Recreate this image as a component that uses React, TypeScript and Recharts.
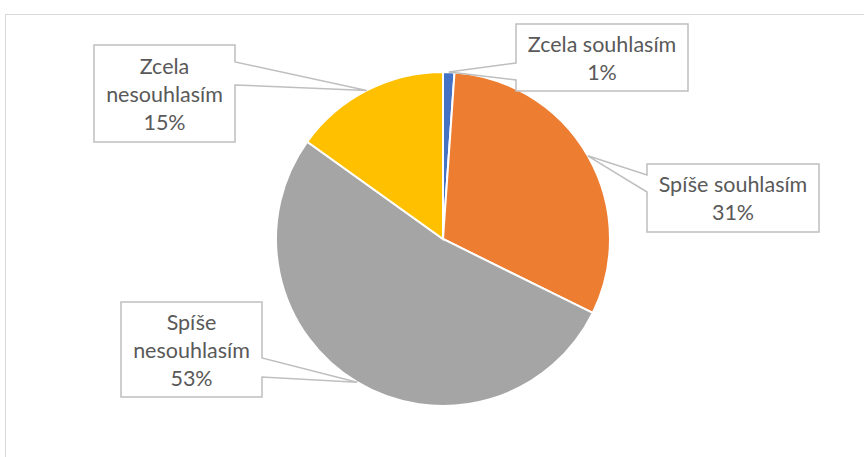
import { PieChart, Pie, Cell } from "recharts";

const categories = ["Zcela souhlasím", "Spíše souhlasím", "Spíše nesouhlasím", "Zcela nesouhlasím"];
const shares = [1.1, 31.2, 52.6, 15.1];
const colors = ["#4472c4", "#ed7d31", "#a5a5a5", "#ffc000"];

// callout boxes: x, y, w, h, which side the pointer leaves from, pointer base (y1, y2)
const callouts = [
  { x: 516, y: 24, w: 172, h: 67, side: "left", b1: 63, b2: 80, lines: ["Zcela souhlasím"] },
  { x: 647, y: 164, w: 172, h: 68, side: "left", b1: 175, b2: 192, lines: ["Spíše souhlasím"] },
  { x: 121, y: 302, w: 141, h: 95, side: "right", b1: 358, b2: 377, lines: ["Spíše", "nesouhlasím"] },
  { x: 94, y: 45, w: 141, h: 97, side: "right", b1: 62, b2: 85, lines: ["Zcela", "nesouhlasím"] },
];

const data = categories.map((name, i) => ({ name, value: shares[i] }));

const RAD = Math.PI / 180;

const renderCallout = (props: any) => {
  const { cx, cy, midAngle, outerRadius, percent, index } = props;
  const c = callouts[index];
  const tx = cx + outerRadius * Math.cos(-midAngle * RAD);
  const ty = cy + outerRadius * Math.sin(-midAngle * RAD);
  const { x, y, w, h } = c;
  let d: string;
  if (c.side === "left") {
    d = `M${x},${y} H${x + w} V${y + h} H${x} V${c.b2} L${tx},${ty} L${x},${c.b1} Z`;
  } else {
    d = `M${x},${y} H${x + w} V${c.b1} L${tx},${ty} L${x + w},${c.b2} V${y + h} H${x} Z`;
  }
  const lines = [...c.lines, `${Math.round(percent * 100)}%`];
  const mid = y + h / 2 + 8;
  return (
    <g key={`co-${index}`}>
      <path d={d} fill="#fff" stroke="#bfbfbf" strokeWidth={1.5} />
      {lines.map((t, i) => (
        <text
          key={i}
          x={x + w / 2}
          y={mid + (i - (lines.length - 1) / 2) * 28}
          textAnchor="middle"
          fill="#595959"
          fontSize={21.5}
          fontFamily="Lato, 'Noto Sans', sans-serif"
        >
          {t}
        </text>
      ))}
    </g>
  );
};

export default function App() {
  return (
    <div style={{ position: "absolute", left: 0, top: 0, width: 864, height: 457, overflow: "hidden", background: "#fff" }}>
      <div style={{ position: "absolute", left: 5, top: 14, width: 900, height: 500, border: "1px solid #d9d9d9" }} />
      <div style={{ position: "absolute", left: 0, top: 0 }}>
        <PieChart width={864} height={457} margin={{ top: 0, right: 0, bottom: 0, left: 0 }}>
          <Pie
            data={data}
            dataKey="value"
            nameKey="name"
            cx={443}
            cy={239}
            outerRadius={167}
            startAngle={90}
            endAngle={-270}
            stroke="#fff"
            strokeWidth={2}
            label={renderCallout}
            labelLine={false}
            isAnimationActive={false}
          >
            {data.map((d, i) => (
              <Cell key={d.name} fill={colors[i]} />
            ))}
          </Pie>
        </PieChart>
      </div>
    </div>
  );
}
